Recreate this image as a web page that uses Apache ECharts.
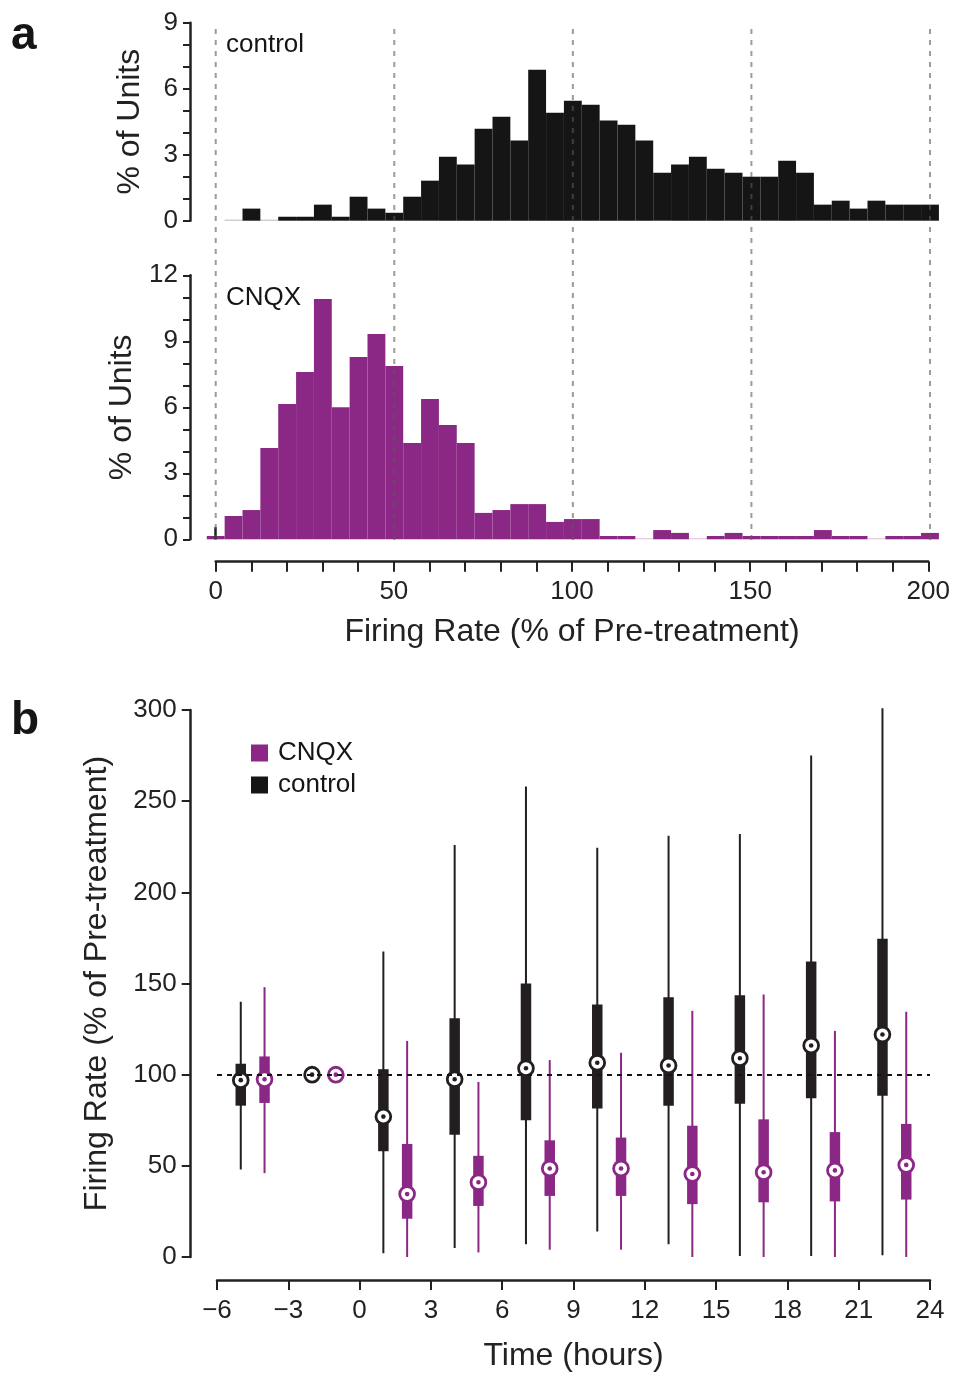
<!DOCTYPE html>
<html>
<head>
<meta charset="utf-8">
<script src="https://cdn.jsdelivr.net/npm/echarts@6/dist/echarts.min.js"></script>
<style>
  html, body { margin: 0; padding: 0; background: #fff; }
  #chart { width: 953px; height: 1373px; }
</style>
</head>
<body>
<div id="chart"></div>
<script>
// ---------- Panel a: histogram data (% of units per 5%-wide bin) ----------
const binCenters = [0, 5, 10, 15, 20, 25, 30, 35, 40, 45, 50, 55, 60, 65, 70, 75, 80, 85, 90, 95,
  100, 105, 110, 115, 120, 125, 130, 135, 140, 145, 150, 155, 160, 165, 170, 175, 180, 185, 190, 195, 200];
const binWidth = 5;
const controlPct = [null, 0, 0.55, 0, 0.18, 0.18, 0.73, 0.18, 1.09, 0.55, 0.36, 1.09, 1.82, 2.91, 2.55, 4.18,
  4.73, 3.64, 6.86, 4.91, 5.45, 5.27, 4.55, 4.36, 3.64, 2.18, 2.55, 2.91, 2.36, 2.18, 2.0, 2.0, 2.73, 2.18,
  0.73, 0.91, 0.55, 0.91, 0.73, 0.73, 0.73];
const cnqxPct = [0.15, 1.06, 1.33, 4.15, 6.15, 7.6, 10.92, 6.0, 8.29, 9.33, 7.88, 4.38, 6.38, 5.2, 4.38, 1.2,
  1.33, 1.6, 1.6, 0.79, 0.92, 0.92, 0.15, 0.15, 0, 0.42, 0.29, 0, 0.15, 0.29, 0.15, 0.15, 0.15, 0.15,
  0.42, 0.15, 0.15, 0, 0.15, 0.15, 0.29];
const refLinesA = [0, 50, 100, 150, 200];

// ---------- Panel b: box-plot data (firing rate, % of pre-treatment) ----------
const ctrlTime = [-5, -2, 1, 4, 7, 10, 13, 16, 19, 22];
const ctrlMin  = [48, null, 2, 5, 7, 14, 7, 0.5, 0.5, 1];
const ctrlQ1   = [83, null, 58, 67, 75, 81.5, 83, 84, 87, 88.5];
const ctrlMed  = [97, 100, 77, 97.5, 103.5, 106.5, 105, 109, 116, 122];
const ctrlQ3   = [106, null, 103, 131, 150, 138.5, 142.5, 143.5, 162, 174.5];
const ctrlMax  = [140, null, 167.5, 226, 258, 224.5, 231, 232, 275, 301];

const cnqxTime = [-4, -1, 2, 5, 8, 11, 14, 17, 20, 23];
const cnqxMin  = [46, null, 0, 2.5, 4, 4, 0, 0, 0, 0];
const cnqxQ1   = [84.5, null, 21, 28, 33.5, 33.5, 29, 30, 30.5, 31.5];
const cnqxMed  = [97.5, 100, 34.5, 41, 48.5, 48.5, 45.5, 46.5, 47.5, 50.5];
const cnqxQ3   = [110, null, 62, 55.5, 64, 65.5, 72, 75.5, 68.5, 73];
const cnqxMax  = [148, null, 118.5, 96, 108, 112, 135, 144, 124, 134.5];
const refLevelB = 100;

// ---------- styles ----------
const BLACK = '#151515';
const BOXBLACK = '#231f20';
const PURPLE = '#8b2886';
const AXIS = '#222';
const FONT = "'Liberation Sans', Arial, Helvetica, sans-serif";

function histItem(color) {
  return function (params, api) {
    const x = api.value(0), v = api.value(1);
    if (isNaN(v)) return null;
    const p0 = api.coord([x - binWidth / 2, v]);
    const p1 = api.coord([x + binWidth / 2, 0]);
    if (v === 0) {
      return { type: 'rect', shape: { x: p0[0], y: p1[1] - 1, width: p1[0] - p0[0], height: 1 },
        style: { fill: color, opacity: 0.3 } };
    }
    return { type: 'rect', shape: { x: p0[0], y: p0[1], width: p1[0] - p0[0], height: p1[1] - p0[1] },
      style: { fill: color } };
  };
}

function boxItem(color, boxColor) {
  return function (params, api) {
    const t = api.value(0), mn = api.value(1), q1 = api.value(2), md = api.value(3), q3 = api.value(4), mx = api.value(5);
    const children = [];
    if (!isNaN(mn) && !isNaN(mx)) {
      const a = api.coord([t, mn]), b = api.coord([t, mx]);
      children.push({ type: 'line', shape: { x1: a[0], y1: a[1], x2: b[0], y2: b[1] },
        style: { stroke: color, lineWidth: 2 } });
    }
    if (!isNaN(q1) && !isNaN(q3)) {
      const a = api.coord([t, q3]), b = api.coord([t, q1]);
      const w = 10.5;
      children.push({ type: 'rect', shape: { x: a[0] - w / 2, y: a[1], width: w, height: b[1] - a[1] },
        style: { fill: boxColor } });
    }
    const c = api.coord([t, md]);
    children.push({ type: 'circle', shape: { cx: c[0], cy: c[1], r: 7.4 },
      style: { fill: '#fff', stroke: color, lineWidth: 2.8 } });
    children.push({ type: 'circle', shape: { cx: c[0], cy: c[1], r: 2.3 }, style: { fill: color } });
    return { type: 'group', children };
  };
}

const chart = echarts.init(document.getElementById('chart'), null, { renderer: 'canvas' });

const axisLineStyle = { color: AXIS, width: 2.5 };
const tickStyle = { color: AXIS, width: 2 };
const labelStyle = { color: AXIS, fontSize: 26, fontFamily: FONT };
const nameStyle = { color: AXIS, fontSize: 32, fontFamily: FONT };

const option = {
  animation: false,
  backgroundColor: '#fff',
  textStyle: { fontFamily: FONT },
  title: [
    { text: 'a', left: 11, top: 13, padding: 0, textStyle: { fontSize: 46, fontWeight: 'bold', color: BLACK, fontFamily: FONT } },
    { text: 'b', left: 11, top: 698, padding: 0, textStyle: { fontSize: 46, fontWeight: 'bold', color: BLACK, fontFamily: FONT } },
    { text: 'control', left: 226, top: 32, padding: 0, textStyle: { fontSize: 26, fontWeight: 'normal', color: BLACK, fontFamily: FONT } },
    { text: 'CNQX', left: 226, top: 285, padding: 0, textStyle: { fontSize: 26, fontWeight: 'normal', color: BLACK, fontFamily: FONT } }
  ],
  legend: {
    data: ['CNQX', 'control'],
    orient: 'vertical',
    left: 251, top: 740,
    icon: 'rect',
    itemWidth: 17, itemHeight: 17, itemGap: 6,
    padding: 0,
    selectedMode: false,
    textStyle: { fontSize: 26, color: BLACK, fontFamily: FONT, lineHeight: 26, padding: [0, 0, 0, 5] }
  },
  grid: [
    { left: 190, top: 22.7, width: 750.7, height: 198 },
    { left: 190, top: 275.3, width: 750.7, height: 264 },
    { left: 215.7, top: 559.7, width: 714.3, height: 2 },
    { left: 190, top: 25, width: 750.7, height: 515 },
    { left: 217, top: 710, width: 713, height: 551.5 }
  ],
  xAxis: [
    { gridIndex: 0, type: 'value', min: -7.2, max: 203, show: false },
    { gridIndex: 1, type: 'value', min: -7.2, max: 203, show: false },
    { gridIndex: 2, type: 'value', min: 0, max: 200, interval: 10,
      axisLine: { show: true, onZero: false, lineStyle: axisLineStyle },
      axisTick: { show: true, length: 10, lineStyle: tickStyle },
      axisLabel: { ...labelStyle, margin: 17, formatter: v => (v % 50 === 0 ? String(v) : '') },
      splitLine: { show: false },
      name: 'Firing Rate (% of Pre-treatment)', nameLocation: 'middle', nameGap: 54, nameTextStyle: nameStyle },
    { gridIndex: 3, type: 'value', min: -7.2, max: 203, show: false },
    { gridIndex: 4, type: 'value', min: -6, max: 24, interval: 3, offset: 23,
      axisLine: { show: true, onZero: false, lineStyle: axisLineStyle },
      axisTick: { show: true, length: 10, lineStyle: tickStyle },
      axisLabel: { ...labelStyle, margin: 18, formatter: v => (v < 0 ? '\u2212' + Math.abs(v) : String(v)) },
      splitLine: { show: false },
      name: 'Time (hours)', nameLocation: 'middle', nameGap: 60, nameTextStyle: nameStyle }
  ],
  yAxis: [
    { gridIndex: 0, type: 'value', min: 0, max: 9, interval: 1,
      axisLine: { show: true, onZero: false, lineStyle: axisLineStyle },
      axisTick: { show: true, length: 7, lineStyle: tickStyle },
      axisLabel: { ...labelStyle, margin: 12, formatter: v => (v % 3 === 0 ? String(v) : '') },
      splitLine: { show: false },
      name: '% of Units', nameLocation: 'middle', nameGap: 44, nameTextStyle: nameStyle },
    { gridIndex: 1, type: 'value', min: 0, max: 12, interval: 1,
      axisLine: { show: true, onZero: false, lineStyle: axisLineStyle },
      axisTick: { show: true, length: 7, lineStyle: tickStyle },
      axisLabel: { ...labelStyle, margin: 12, formatter: v => (v % 3 === 0 ? String(v) : '') },
      splitLine: { show: false },
      name: '% of Units', nameLocation: 'middle', nameGap: 44, nameTextStyle: nameStyle },
    { gridIndex: 2, type: 'value', min: 0, max: 1, show: false },
    { gridIndex: 3, type: 'value', min: 0, max: 1, show: false },
    { gridIndex: 4, type: 'value', min: 0, max: 300, interval: 50, offset: 26.3,
      axisLine: { show: true, onZero: false, lineStyle: axisLineStyle },
      axisTick: { show: true, length: 9, lineStyle: tickStyle },
      axisLabel: { ...labelStyle, margin: 14 },
      splitLine: { show: false },
      name: 'Firing Rate (% of Pre-treatment)', nameLocation: 'middle', nameGap: 78, nameTextStyle: nameStyle }
  ],
  series: [
    { name: 'control histogram', type: 'custom', xAxisIndex: 0, yAxisIndex: 0,
      data: binCenters.map((c, i) => [c, controlPct[i]]), encode: { x: 0, y: 1 },
      renderItem: histItem(BLACK), z: 2 },
    { name: 'CNQX histogram', type: 'custom', xAxisIndex: 1, yAxisIndex: 1,
      data: binCenters.map((c, i) => [c, cnqxPct[i]]), encode: { x: 0, y: 1 },
      renderItem: histItem(PURPLE), z: 2,
      markLine: { silent: true, symbol: 'none', label: { show: false },
        lineStyle: { color: '#222', width: 2.5, type: 'solid' },
        data: [[{ coord: [0, 0] }, { coord: [0, 0.55] }]] } },
    { name: 'reference lines', type: 'custom', xAxisIndex: 3, yAxisIndex: 3,
      data: refLinesA.map(x => [x, 0]), encode: { x: 0, y: 1 }, z: 5,
      renderItem: function (params, api) {
        const x = api.value(0);
        const a = api.coord([x, 0]), b = api.coord([x, 1]);
        return { type: 'line', shape: { x1: a[0], y1: a[1], x2: b[0], y2: b[1] },
          style: { stroke: 'rgba(90,90,90,0.6)', lineWidth: 2, lineDash: [5, 6] } };
      } },
    { name: 'baseline', type: 'line', xAxisIndex: 4, yAxisIndex: 4, data: [], z: 1,
      markLine: { silent: true, symbol: 'none', label: { show: false },
        lineStyle: { color: BLACK, width: 2, type: [5, 5] },
        data: [{ yAxis: refLevelB }] } },
    { name: 'CNQX', type: 'custom', xAxisIndex: 4, yAxisIndex: 4, z: 3,
      itemStyle: { color: PURPLE },
      data: cnqxTime.map((t, i) => [t, cnqxMin[i], cnqxQ1[i], cnqxMed[i], cnqxQ3[i], cnqxMax[i]]),
      encode: { x: 0, y: [1, 2, 3, 4, 5] },
      renderItem: boxItem(PURPLE, PURPLE) },
    { name: 'control', type: 'custom', xAxisIndex: 4, yAxisIndex: 4, z: 3,
      itemStyle: { color: BLACK },
      data: ctrlTime.map((t, i) => [t, ctrlMin[i], ctrlQ1[i], ctrlMed[i], ctrlQ3[i], ctrlMax[i]]),
      encode: { x: 0, y: [1, 2, 3, 4, 5] },
      renderItem: boxItem(BOXBLACK, BOXBLACK) }
  ]
};
chart.setOption(option);
</script>
</body>
</html>
